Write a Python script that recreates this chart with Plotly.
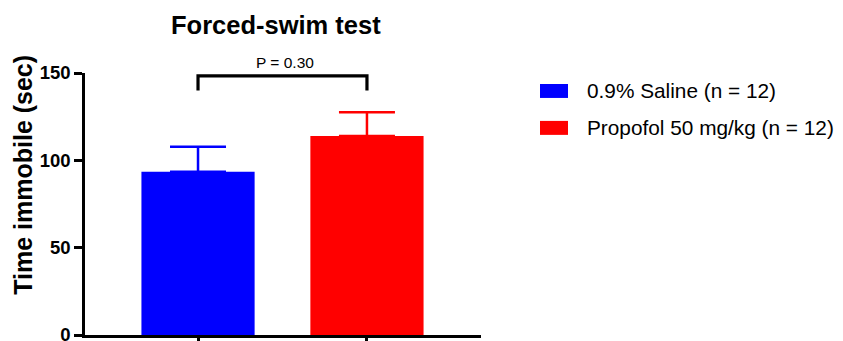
import plotly.graph_objects as go

# ---- data ----
groups = ["0.9% Saline (n = 12)", "Propofol 50 mg/kg (n = 12)"]
means = [93.5, 114.0]
sems = [14.3, 13.6]
colors = ["#0000FF", "#FF0000"]
y_ticks = [0, 50, 100, 150]
p_label = "P = 0.30"
title_text = "Forced-swim test"
y_title = "Time immobile (sec)"

W, H = 843, 341
OFF = 8  # page body margin offset
# target plot area in screenshot pixels: x 85..481, y 73..335.5
L = 85 - OFF
R = W - (481 - OFF)
T = 73 - OFF
B = H - (335.5 - OFF)
FONT = "Liberation Sans, Arial, Helvetica, sans-serif"


def px_to_paper(px, py):
    px -= OFF
    py -= OFF
    return (px - L) / (W - L - R), (H - B - py) / (H - T - B)


fig = go.Figure()
for g, m, s, c in zip(groups, means, sems, colors):
    fig.add_trace(go.Bar(
        x=[g], y=[m], name=g, marker=dict(color=c, line=dict(width=0)),
        width=0.67,
        error_y=dict(type="data", array=[s], arrayminus=[0], symmetric=False,
                     color=c, thickness=2.5, width=28),
        showlegend=False,
    ))

# significance bracket
fig.add_shape(type="path", xref="x", yref="y",
              path="M 0,140 L 0,148.3 L 1,148.3 L 1,140",
              line=dict(color="black", width=3.2))
px_, py_ = px_to_paper(285, 62)
fig.add_annotation(x=px_, y=py_, xref="paper", yref="paper", text=p_label,
                   showarrow=False, xanchor="center", yanchor="middle",
                   font=dict(family=FONT, size=15.5, color="black"))

# y-axis title
ax, ay = px_to_paper(23, 175)
fig.add_annotation(x=ax, y=ay, xref="paper", yref="paper", text=y_title,
                   showarrow=False, textangle=-90, xanchor="center", yanchor="middle",
                   font=dict(family=FONT, size=25, color="black", weight="bold"))

# chart title
tx_, ty_ = px_to_paper(276, 25)
fig.add_annotation(x=tx_, y=ty_, xref="paper", yref="paper", text=title_text,
                   showarrow=False, xanchor="center", yanchor="middle",
                   font=dict(family=FONT, size=25.5, color="black", weight="bold"))

# custom legend
row_y = [91, 128]
for g, c, ry in zip(groups, colors, row_y):
    x0, y0 = px_to_paper(540, ry - 7)
    x1, y1 = px_to_paper(568, ry + 7)
    fig.add_shape(type="rect", xref="paper", yref="paper", x0=x0, x1=x1, y0=y0, y1=y1,
                  fillcolor=c, line=dict(width=0))
    lx, ly = px_to_paper(586, ry)
    fig.add_annotation(x=lx, y=ly, xref="paper", yref="paper", text=g, showarrow=False,
                       xanchor="left", yanchor="middle", borderpad=0,
                       font=dict(family=FONT, size=20.8, color="black"))

fig.update_layout(
    width=W, height=H,
    margin=dict(l=L, r=R, t=T, b=B, pad=0, autoexpand=False),
    plot_bgcolor="white", paper_bgcolor="white",
    bargap=0.33,
    xaxis=dict(range=[-0.669, 1.675], showline=True, linecolor="black", linewidth=2.5,
               ticks="outside", ticklen=8, tickwidth=2.5, tickcolor="black",
               showticklabels=False, showgrid=False, zeroline=False, automargin=False),
    yaxis=dict(range=[0, 150], tickvals=y_ticks, showline=True, linecolor="black",
               linewidth=2.5, ticks="outside", ticklen=8, tickwidth=2.5,
               tickcolor="black", showgrid=False, zeroline=False, automargin=False,
               tickfont=dict(family=FONT, size=18.5, color="black", weight="bold")),
    showlegend=False,
)

fig.write_html("out.html")
